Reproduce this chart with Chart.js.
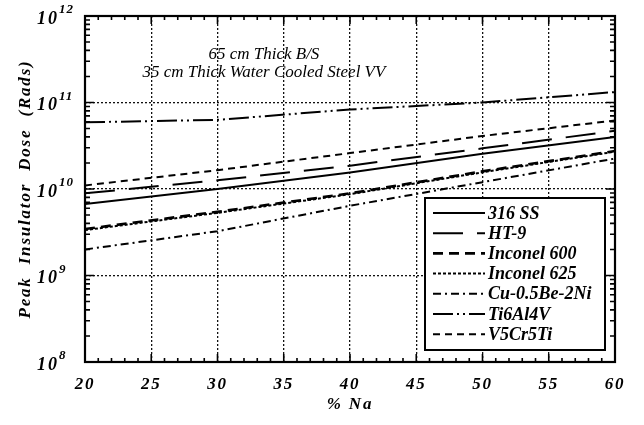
<!DOCTYPE html>
<html><head><meta charset="utf-8">
<script src="https://cdn.jsdelivr.net/npm/chart.js@4"></script>
<style>html,body{margin:0;padding:0;background:#fff}#wrap{width:644px;height:425px;position:relative}</style>
</head><body><div id="wrap"><canvas id="c"></canvas></div>
<script>
// ---- data ----
const naPercent   = [20, 30, 40, 50, 60];
const ss316       = [6.7e9, 1.0e10, 1.55e10, 2.55e10, 4.0e10];
const ht9         = [8.9e9, 1.26e10, 1.86e10, 2.95e10, 4.7e10];
const inconel600  = [3.45e9, 5.45e9, 8.9e9, 1.6e10, 2.75e10];
const inconel625  = [3.35e9, 5.3e9, 8.7e9, 1.56e10, 2.7e10];
const cuBeNi      = [2.0e9, 3.25e9, 6.4e9, 1.2e10, 2.25e10];
const ti6al4v     = [5.9e10, 6.3e10, 8.3e10, 1.0e11, 1.32e11];
const v5cr5ti     = [1.1e10, 1.65e10, 2.6e10, 4.1e10, 6.2e10];
const seriesNames = ['316 SS', 'HT-9', 'Inconel 600', 'Inconel 625', 'Cu-0.5Be-2Ni', 'Ti6Al4V', 'V5Cr5Ti'];
const xTickValues = [20, 25, 30, 35, 40, 45, 50, 55, 60];
const yTickValues = [1e8, 1e9, 1e10, 1e11, 1e12];
const noteLines   = ['65 cm Thick B/S', '35 cm Thick Water Cooled Steel VV'];

// ---- styles ----
const seriesValues = [ss316, ht9, inconel600, inconel625, cuBeNi, ti6al4v, v5cr5ti];
const lineStyles = [
  {dash: [], width: 2},
  {dash: [30, 14], width: 2},
  {dash: [10, 6], width: 2.6},
  {dash: [3, 2], width: 2},
  {dash: [8, 4, 2, 4], width: 2},
  {dash: [20, 4, 2, 4, 2, 4], width: 2},
  {dash: [7, 5], width: 2}
];
const SERIF = "'Liberation Serif', 'DejaVu Serif', serif";

const datasets = seriesNames.map((name, i) => ({
  label: name,
  data: naPercent.map((x, j) => ({x: x, y: seriesValues[i][j]})),
  borderColor: '#000',
  backgroundColor: '#000',
  borderWidth: lineStyles[i].width,
  borderDash: lineStyles[i].dash,
  pointRadius: 0,
  tension: 0,
  fill: false
}));

const decor = {
  id: 'decor',
  beforeDraw(chart) {
    const ctx = chart.ctx;
    ctx.save();
    ctx.fillStyle = '#fff';
    ctx.fillRect(0, 0, chart.width, chart.height);
    ctx.restore();
    ctx.letterSpacing = '1.8px';
  },
  afterDraw(chart) {
    const {ctx, chartArea: a, scales: {x, y}} = chart;
    ctx.save();
    ctx.letterSpacing = '0px';
    ctx.strokeStyle = '#000';
    ctx.fillStyle = '#000';
    ctx.setLineDash([]);
    // inward tick marks on all four sides
    ctx.lineWidth = 1.6;
    ctx.beginPath();
    for (let v = x.min; v <= x.max + 1e-9; v += 1) {
      const px = x.getPixelForValue(v);
      const len = (v % 5 === 0) ? 8 : 4;
      ctx.moveTo(px, a.bottom); ctx.lineTo(px, a.bottom - len);
      ctx.moveTo(px, a.top); ctx.lineTo(px, a.top + len);
    }
    for (let e = 8; e < 12; e++) {
      for (let k = 1; k <= 9; k++) {
        const py = y.getPixelForValue(k * Math.pow(10, e));
        const len = (k === 1) ? 9 : 5;
        ctx.moveTo(a.left, py); ctx.lineTo(a.left + len, py);
        ctx.moveTo(a.right, py); ctx.lineTo(a.right - len, py);
      }
    }
    ctx.stroke();
    // frame
    ctx.lineWidth = 2.2;
    ctx.strokeRect(a.left, a.top, a.right - a.left, a.bottom - a.top);

    // y tick labels 10^n
    y.ticks.forEach(t => {
      const py = y.getPixelForValue(t.value);
      const ex = String(Math.round(Math.log10(t.value)));
      ctx.font = "bold italic 18px " + SERIF;
      ctx.letterSpacing = '2px';
      ctx.textAlign = 'right';
      ctx.textBaseline = 'middle';
      ctx.fillText('10', a.left - 26, py + 3);
      ctx.font = "bold italic 13px " + SERIF;
      ctx.letterSpacing = '1px';
      ctx.textAlign = 'left';
      ctx.fillText(ex, a.left - 26, py - 6);
    });
    ctx.letterSpacing = '0px';

    // annotation
    ctx.font = "italic 17px " + SERIF;
    ctx.textAlign = 'center';
    ctx.textBaseline = 'middle';
    const nx = x.getPixelForValue(33.5);
    ctx.fillText(noteLines[0], nx, a.top + 39);
    ctx.fillText(noteLines[1], nx, a.top + 57);

    // legend box
    const bl = a.right - 190, bt = a.bottom - 164, bw = 180, bh = 152;
    ctx.fillStyle = '#fff';
    ctx.fillRect(bl, bt, bw, bh);
    ctx.strokeStyle = '#000';
    ctx.lineWidth = 2;
    ctx.strokeRect(bl, bt, bw, bh);
    ctx.fillStyle = '#000';
    ctx.font = "bold italic 18px " + SERIF;
    ctx.textAlign = 'left';
    chart.data.datasets.forEach((ds, i) => {
      const ly = bt + 15 + i * 20.2;
      ctx.save();
      ctx.lineWidth = ds.borderWidth;
      ctx.setLineDash(ds.borderDash || []);
      ctx.beginPath();
      ctx.moveTo(bl + 8, ly);
      ctx.lineTo(bl + 60, ly);
      ctx.stroke();
      ctx.restore();
      ctx.fillText(ds.label, bl + 63, ly + 1);
    });
    ctx.restore();
  }
};

new Chart(document.getElementById('c'), {
  type: 'line',
  data: {datasets: datasets},
  options: {
    responsive: true,
    maintainAspectRatio: false,
    animation: false,
    layout: {padding: {top: 16, right: 29, left: 0, bottom: 0}},
    plugins: {legend: {display: false}, tooltip: {enabled: false}},
    scales: {
      x: {
        type: 'linear', min: 20, max: 60,
        afterBuildTicks: s => { s.ticks = xTickValues.map(v => ({value: v})); },
        afterFit: s => { s.height = 63; },
        ticks: {color: '#000', padding: 12, maxRotation: 0, autoSkip: false,
                font: {family: SERIF, size: 17, weight: 'bold', style: 'italic'}},
        grid: {color: '#111', lineWidth: 1.3, drawTicks: false},
        border: {display: false, dash: [2, 2]},
        title: {display: true, text: '% Na', color: '#000', padding: {top: 0, bottom: 10},
                font: {family: SERIF, size: 17, weight: 'bold', style: 'italic'}}
      },
      y: {
        type: 'logarithmic', min: 1e8, max: 1e12,
        afterBuildTicks: s => { s.ticks = yTickValues.map(v => ({value: v})); },
        afterFit: s => { s.width = 85; },
        ticks: {callback: () => '', display: true},
        grid: {color: '#111', lineWidth: 1.3, drawTicks: false},
        border: {display: false, dash: [2, 2]},
        title: {display: true, text: 'Peak  Insulator  Dose  (Rads)', color: '#000', padding: {top: 15, bottom: 0},
                font: {family: SERIF, size: 17, weight: 'bold', style: 'italic'}}
      }
    }
  },
  plugins: [decor]
});
</script>
</body></html>
